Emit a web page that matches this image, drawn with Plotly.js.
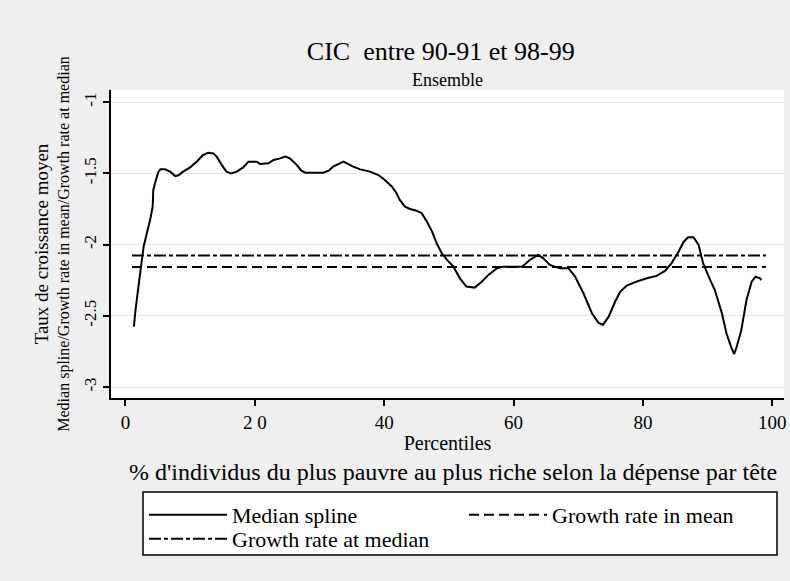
<!DOCTYPE html>
<html>
<head>
<meta charset="utf-8">
<script src="https://cdn.plot.ly/plotly-3.0.1.min.js"></script>
<style>html,body{margin:0;padding:0;background:#efefef;}</style>
</head>
<body>
<div id="chart" style="width:790px;height:581px;"></div>
<script>
// Percentile positions and median spline values
var percentiles = [1.3,1.5,2.0,2.5,2.8,3.3,3.8,4.2,4.3,4.7,5.1,5.4,6.1,6.9,7.7,8.2,8.9,10.0,11.0,12.0,12.8,13.6,14.1,14.9,15.6,16.3,17.2,18.2,19.0,20.3,20.8,22.1,22.9,23.9,24.7,25.4,26.5,27.2,27.8,30.6,31.4,32.1,33.2,33.7,35.2,36.3,37.8,39.1,40.1,41.2,41.9,42.4,43.2,44.0,45.0,45.8,46.6,47.4,48.1,48.9,49.7,50.7,51.7,52.7,54.0,55.1,56.1,57.4,58.4,61.3,62.5,63.8,64.6,65.6,67.2,68.5,69.5,70.8,72.1,73.1,73.8,74.7,75.7,76.5,77.5,79.0,80.6,82.1,83.4,84.4,85.5,86.3,87.0,87.8,88.6,89.3,90.4,91.1,92.2,92.9,93.7,94.1,94.5,95.2,96.0,96.8,97.4,98.1,98.3];
var medianSpline = [-2.576,-2.48,-2.295,-2.13,-2.015,-1.92,-1.83,-1.734,-1.617,-1.547,-1.488,-1.472,-1.472,-1.488,-1.519,-1.514,-1.488,-1.458,-1.418,-1.371,-1.355,-1.36,-1.383,-1.442,-1.488,-1.5,-1.488,-1.458,-1.418,-1.418,-1.435,-1.43,-1.406,-1.395,-1.383,-1.395,-1.442,-1.481,-1.495,-1.495,-1.481,-1.453,-1.43,-1.418,-1.453,-1.472,-1.488,-1.512,-1.547,-1.594,-1.64,-1.687,-1.734,-1.75,-1.762,-1.781,-1.839,-1.909,-1.991,-2.061,-2.108,-2.155,-2.237,-2.295,-2.302,-2.26,-2.213,-2.167,-2.155,-2.155,-2.108,-2.073,-2.097,-2.143,-2.167,-2.167,-2.225,-2.342,-2.482,-2.548,-2.564,-2.506,-2.4,-2.33,-2.288,-2.26,-2.237,-2.22,-2.185,-2.132,-2.05,-1.98,-1.949,-1.949,-2.003,-2.132,-2.249,-2.319,-2.482,-2.623,-2.728,-2.768,-2.716,-2.6,-2.389,-2.26,-2.225,-2.237,-2.249];
var lineRange = [1, 99];
var growthMean = -2.158;
var growthMedian = -2.076;
var xTickVals = [0, 20, 40, 60, 80, 100];
var xTickText = ['0', '2 0', '40', '60', '80', '100'];
var yTickVals = [-3, -2.5, -2, -1.5, -1];
var yTickText = ['-3', '-2.5', '-2', '-1.5', '-1'];

var serif = 'Liberation Serif, Times New Roman, serif';

var traces = [
  {x: percentiles, y: medianSpline, type: 'scatter', mode: 'lines', name: 'Median spline',
   line: {color: '#000', width: 2}, legend: 'legend'},
  {x: lineRange, y: [growthMean, growthMean], type: 'scatter', mode: 'lines', name: 'Growth rate in mean',
   line: {color: '#000', width: 2, dash: '10px,5px'}, legend: 'legend2'},
  {x: lineRange, y: [growthMedian, growthMedian], type: 'scatter', mode: 'lines', name: 'Growth rate at median',
   line: {color: '#000', width: 2, dash: '12px,3px,4px,3px'}, legend: 'legend3'}
];

function legendAt(x, y) {
  return {orientation: 'v', x: x, xanchor: 'left', y: y, yanchor: 'top',
          bgcolor: 'rgba(0,0,0,0)', borderwidth: 0,
          font: {family: serif, size: 22}, itemwidth: 78};
}

var layout = {
  width: 790, height: 581,
  paper_bgcolor: '#efefef', plot_bgcolor: '#ffffff',
  margin: {l: 111, r: 6, t: 90, b: 183, autoexpand: false},
  font: {family: serif, color: '#000', size: 15},
  title: {text: 'CIC\u00a0 entre 90-91 et 98-99', font: {family: serif, size: 26, color: '#000'},
          x: 0.558, xref: 'container', xanchor: 'center', y: 0.913, yref: 'container', yanchor: 'middle'},
  showlegend: true,
  xaxis: {range: [-2.24, 101.8], tickmode: 'array', tickvals: xTickVals, ticktext: xTickText,
          showgrid: false, zeroline: false, showline: true, linecolor: '#000', linewidth: 2,
          ticks: 'outside', ticklen: 6, tickwidth: 2, tickcolor: '#000', automargin: false,
          tickfont: {family: serif, size: 19},
          title: {text: 'Percentiles', font: {family: serif, size: 20}, standoff: 4}},
  yaxis: {range: [-3.077, -0.915], tickmode: 'array', tickvals: yTickVals, ticktext: yTickText,
          tickangle: -90, showgrid: true, gridcolor: '#e4e4e4', gridwidth: 1,
          zeroline: false, showline: true, linecolor: '#000', linewidth: 2,
          ticks: 'outside', ticklen: 6, tickwidth: 2, tickcolor: '#000', automargin: false,
          tickfont: {family: serif, size: 17},
          title: {text: '<span style="font-size:19px">Taux de croissance moyen</span><br>Median spline/Growth rate in mean/Growth rate at median',
                  font: {family: serif, size: 16}, standoff: 8}},
  annotations: [
    {text: 'Ensemble', xref: 'paper', yref: 'paper', x: 0.5, y: (398 - 80) / 308, xanchor: 'center', yanchor: 'middle',
     showarrow: false, font: {family: serif, size: 18}},
    {text: "% d'individus du plus pauvre au plus riche selon la dépense par tête", xref: 'paper', yref: 'paper',
     x: 0.508, y: (398 - 472) / 308, xanchor: 'center', yanchor: 'middle', showarrow: false, font: {family: serif, size: 24}}
  ],
  shapes: [
    {type: 'rect', xref: 'paper', yref: 'paper', x0: 32 / 673, x1: 666 / 673, y0: -157 / 308, y1: -94 / 308,
     line: {color: '#000', width: 1.5}, fillcolor: '#ffffff', layer: 'below'}
  ],
  legend: legendAt((144 - 111) / 673, (398 - 494) / 308),
  legend2: legendAt((464 - 111) / 673, (398 - 494) / 308),
  legend3: legendAt((144 - 111) / 673, (398 - 518) / 308)
};

Plotly.newPlot('chart', traces, layout, {displayModeBar: false, staticPlot: true});
</script>
</body>
</html>
